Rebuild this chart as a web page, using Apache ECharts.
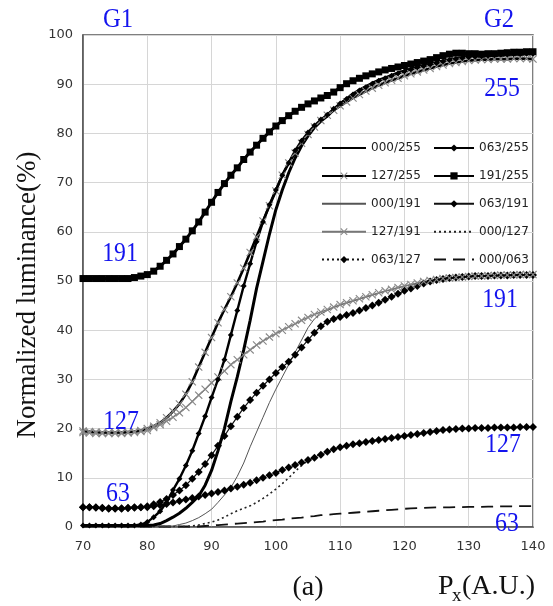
<!DOCTYPE html>
<html>
<head>
<meta charset="utf-8">
<script src="https://cdn.jsdelivr.net/npm/echarts@6/dist/echarts.min.js"></script>
<style>html,body{margin:0;padding:0;background:#fff}#c{width:553px;height:606px}</style>
</head>
<body>
<div id="c"></div>
<script>
const xValues = [70,71,72,73,74,75,76,77,78,79,80,81,82,83,84,85,86,87,88,89,90,91,92,93,94,95,96,97,98,99,100,101,102,103,104,105,106,107,108,109,110,111,112,113,114,115,116,117,118,119,120,121,122,123,124,125,126,127,128,129,130,131,132,133,134,135,136,137,138,139,140];
const xTicks = [70,80,90,100,110,120,130,140];
const yTicks = [0,10,20,30,40,50,60,70,80,90,100];

const s000_255 = [0.3,0.3,0.3,0.3,0.3,0.3,0.3,0.3,0.3,0.3,0.3,
 0.4,0.7,1.3,2,2.8,3.8,5,6.3,8.5,11.5,
 15.5,20,25.5,30.5,36,42,48.5,54,59.5,64.5,
 68.5,72,75,77.5,79.5,81.2,82.5,83.5,84.8,86,
 87,88,88.8,89.5,90.2,90.8,91.3,91.8,92.3,92.7,
 93.1,93.5,93.8,94.1,94.4,94.7,95,95.2,95.4,95.6,
 95.7,95.8,95.9,96,96,96.1,96.1,96.2,96.2,96.2];
const s063_255 = [0.3,0.3,0.3,0.3,0.3,0.3,0.3,0.3,0.3,0.5,1,
 2,3.2,5,7.5,9.8,12.5,15.5,19,22.5,26.3,
 30,34,39,44,49,53.5,58,62,65.5,68.5,
 71.5,74,76.5,78.5,80.2,81.6,82.8,83.8,85,86.1,
 87,87.9,88.7,89.4,90.1,90.7,91.2,91.7,92.2,92.6,
 93,93.4,93.7,94,94.3,94.6,94.9,95.1,95.3,95.5,
 95.6,95.7,95.8,95.9,96,96,96.1,96.1,96.2,96.2];
const s127_255 = [19.5,19.4,19.3,19.2,19.2,19.2,19.2,19.3,19.4,19.6,20,
 20.5,21.2,22.2,23.5,25,27,29.5,32.5,35.5,38.5,
 41.5,44.2,46.8,49.6,52.6,55.8,59,62.2,65.3,68.3,
 71.5,74,76,78,79.8,81.3,82.6,83.7,84.7,85.6,
 86.4,87.2,87.9,88.6,89.2,89.8,90.3,90.8,91.2,91.7,
 92.1,92.5,92.9,93.2,93.6,93.9,94.2,94.4,94.6,94.8,
 94.9,95,95,95.1,95.1,95.1,95.2,95.2,95.2,95.1];
const s191_255 = [50.5,50.5,50.5,50.5,50.5,50.5,50.5,50.5,50.7,51,51.3,
 52,53,54.2,55.5,57,58.5,60.2,62,64,66,
 68,69.8,71.5,73,74.7,76.2,77.6,79,80.3,81.5,
 82.6,83.6,84.5,85.3,86,86.6,87.2,87.7,88.4,89.3,
 90.1,90.7,91.2,91.7,92.1,92.5,92.9,93.2,93.5,93.8,
 94.1,94.4,94.7,95,95.4,95.8,96.1,96.3,96.3,96.2,
 96.2,96.1,96.2,96.2,96.3,96.4,96.5,96.5,96.6,96.6];
const s000_191 = [0.2,0.2,0.2,0.2,0.2,0.2,0.2,0.2,0.2,0.2,0.2,
 0.2,0.2,0.2,0.2,0.5,0.8,1.3,1.9,2.7,3.6,
 5,6.5,8,10.3,13,16.3,19.3,22.3,25.3,28,
 30.5,33,35.5,38,40.5,42.3,43.3,44,44.6,45.1,
 45.5,45.9,46.3,46.7,47.1,47.5,47.9,48.2,48.6,48.9,
 49.2,49.5,49.8,50,50.2,50.4,50.5,50.6,50.7,50.8,
 50.9,50.9,51,51,51,51.1,51.1,51.1,51.2,51.2];
const s063_191 = [4,4,4,3.9,3.8,3.8,3.8,3.9,4,4,4.2,
 4.6,5.1,5.7,6.5,7.4,8.5,9.8,11.2,12.8,14.6,
 16.5,18.5,20.5,22.4,24.2,25.8,27.3,28.7,30,31.3,
 32.5,33.6,35,36.5,38,39.5,40.8,41.7,42.3,42.7,
 43.1,43.5,44,44.5,45,45.6,46.2,46.8,47.4,48,
 48.5,49,49.5,49.9,50.2,50.4,50.6,50.7,50.8,50.9,
 51,51,51,51.1,51.1,51.1,51.2,51.2,51.2,51.2];
const s127_191 = [19.2,19.1,19,19,19,19,19,19.1,19.2,19.4,19.6,
 20.2,20.8,21.5,22.3,23.2,24.3,25.5,26.8,28,29.3,
 30.5,31.7,33,34,35,36,37,37.8,38.6,39.3,
 40,40.7,41.3,42,42.6,43.2,43.7,44.2,44.7,45.2,
 45.6,46,46.4,46.8,47.2,47.6,48,48.3,48.7,49,
 49.3,49.6,49.9,50.1,50.3,50.5,50.6,50.7,50.8,50.9,
 51,51,51.1,51.1,51.2,51.2,51.2,51.3,51.3,51.3];
const s000_127 = [0.1,0.1,0.1,0.1,0.1,0.1,0.1,0.1,0.1,0.1,0.1,
 0.1,0.1,0.1,0.1,0.1,0.1,0.2,0.4,0.7,1,
 1.4,2,2.7,3.3,3.8,4.3,5,5.8,6.7,7.7,
 8.8,10,11.3,12.5,13.5,14.2,14.8,15.3,15.8,16.2,
 16.5,16.8,17,17.3,17.5,17.7,17.9,18.1,18.3,18.5,
 18.7,18.9,19.1,19.3,19.5,19.7,19.8,19.9,20,20,
 20.1,20.1,20.1,20.2,20.2,20.2,20.2,20.3,20.3,20.3];
const s063_127 = [4,4,3.9,3.8,3.7,3.7,3.7,3.8,3.9,4,4,
 4.2,4.4,4.7,5,5.3,5.6,5.9,6.2,6.5,6.8,
 7.1,7.4,7.8,8.2,8.6,9,9.5,10,10.5,11,
 11.6,12.1,12.6,13.1,13.6,14.1,14.7,15.3,15.8,16.2,
 16.5,16.8,17,17.3,17.5,17.7,17.9,18.1,18.3,18.5,
 18.7,18.9,19.1,19.3,19.5,19.7,19.8,19.9,20,20,
 20.1,20.1,20.1,20.2,20.2,20.2,20.2,20.3,20.3,20.3];
const s000_063 = [0.1,0.1,0.1,0.1,0.1,0.1,0.1,0.1,0.1,0.1,0.1,
 0.1,0.1,0.1,0.1,0.1,0.1,0.1,0.1,0.2,0.3,
 0.4,0.5,0.6,0.7,0.8,0.9,1,1.1,1.3,1.4,
 1.5,1.7,1.8,1.9,2.1,2.2,2.4,2.5,2.6,2.7,
 2.8,2.9,3,3.1,3.2,3.3,3.4,3.5,3.6,3.7,
 3.8,3.85,3.9,3.95,4,4,4,4.05,4.05,4.1,
 4.1,4.1,4.15,4.15,4.2,4.2,4.2,4.25,4.25,4.25];

const legendCol1 = ['000/255','127/255','000/191','127/191','063/127'];
const legendCol2 = ['063/255','191/255','063/191','000/127','000/063'];
const noMarker = ['000/255','000/191','000/127','000/063'];

const pts = arr => xValues.map((x, i) => [x, arr[i]]);
const XSYM = 'path://M0,1L1,0L5,4L9,0L10,1L6,5L10,9L9,10L5,6L1,10L0,9L4,5Z';

function line(name, arr, lw, color, type, symbol, size, symColor) {
  return {
    name, type: 'line', data: pts(arr), smooth: false,
    symbol: symbol || 'none', symbolSize: size || 0, showAllSymbol: true,
    lineStyle: { width: lw, color, type: type || 'solid' },
    itemStyle: { color: symColor || color },
    emphasis: { disabled: true }
  };
}

const series = [
  line('000/063', s000_063, 1.8, '#111', [12, 7]),
  line('000/127', s000_127, 1.6, '#222', [2, 3]),
  line('063/127', s063_127, 1.4, '#111', [2, 3], 'diamond', 8, '#000'),
  line('000/191', s000_191, 1, '#555'),
  line('063/191', s063_191, 1.2, '#111', 'solid', 'diamond', 8, '#000'),
  line('127/191', s127_191, 1.4, '#777', 'solid', XSYM, 8, '#888'),
  line('127/255', s127_255, 2.6, '#000', 'solid', XSYM, 8, '#888'),
  line('063/255', s063_255, 2.4, '#000', 'solid', 'diamond', 6, '#000'),
  line('000/255', s000_255, 3, '#000'),
  line('191/255', s191_255, 3, '#000', 'solid', 'rect', 7, '#000')
];

const SERIF = '"Liberation Serif", "Times New Roman", serif';
const BLUE = '#1414ee';
function lbl(text, x, y, size, color, align, sx) {
  return {
    type: 'text', x, y, scaleX: sx || 0.88, z: 100,
    style: { text, font: size + 'px ' + SERIF, fill: color || BLUE,
             align: align || 'center', verticalAlign: 'middle' }
  };
}

const legendItems = names => names.map(n =>
  noMarker.indexOf(n) >= 0 ? { name: n, itemStyle: { opacity: 0 } } : { name: n });

const legendBase = {
  orient: 'vertical', top: 137, itemHeight: 9, itemGap: 15.9,
  selectedMode: false,
  textStyle: { fontFamily: 'DejaVu Sans', fontSize: 12, color: '#222' }
};

const chart = echarts.init(document.getElementById('c'), null, { renderer: 'canvas' });
chart.setOption({
  animation: false,
  backgroundColor: '#fff',
  grid: { left: 83, top: 35, right: 20, bottom: 79, show: true,
          borderColor: '#555', borderWidth: 1.5, backgroundColor: 'transparent' },
  xAxis: {
    type: 'value', min: xTicks[0], max: xTicks[xTicks.length - 1], interval: 10,
    axisLine: { show: true, lineStyle: { color: '#555', width: 1.5 } },
    axisTick: { show: false },
    axisLabel: { margin: 13, fontFamily: 'DejaVu Sans', fontSize: 13, color: '#333' },
    splitLine: { show: true, lineStyle: { color: '#d6d6d6', width: 1 } }
  },
  yAxis: {
    type: 'value', min: yTicks[0], max: yTicks[yTicks.length - 1], interval: 10,
    axisLine: { show: true, lineStyle: { color: '#555', width: 1.5 } },
    axisTick: { show: false },
    axisLabel: { margin: 10, fontFamily: 'DejaVu Sans', fontSize: 13, color: '#333' },
    splitLine: { show: true, lineStyle: { color: '#d6d6d6', width: 1 } }
  },
  legend: [
    Object.assign({}, legendBase, { left: 316, itemWidth: 44, data: legendItems(legendCol1) }),
    Object.assign({}, legendBase, { left: 428, itemWidth: 40, data: legendItems(legendCol2) })
  ],
  series,
  graphic: [
    lbl('G1', 118, 20, 28),
    lbl('G2', 499, 20, 28),
    lbl('255', 502, 89, 27),
    lbl('191', 120, 254, 27),
    lbl('127', 121, 422, 27),
    lbl('63', 118, 494, 27),
    lbl('191', 500, 300, 27),
    lbl('127', 503, 445, 27),
    lbl('63', 507, 524, 27),
    {
      type: 'text', x: 28, y: 295, rotation: Math.PI / 2,
      style: { text: 'Normalized luminance(%)', font: '27px ' + SERIF, fill: '#111',
               align: 'center', verticalAlign: 'middle' }
    },
    lbl('(a)', 308, 588, 28, '#111', 'center', 1),
    lbl('P', 438, 587, 28, '#111', 'left', 1),
    lbl('x', 452, 596, 19, '#111', 'left', 1),
    lbl('(A.U.)', 462, 587, 28, '#111', 'left', 1)
  ]
});
</script>
</body>
</html>
